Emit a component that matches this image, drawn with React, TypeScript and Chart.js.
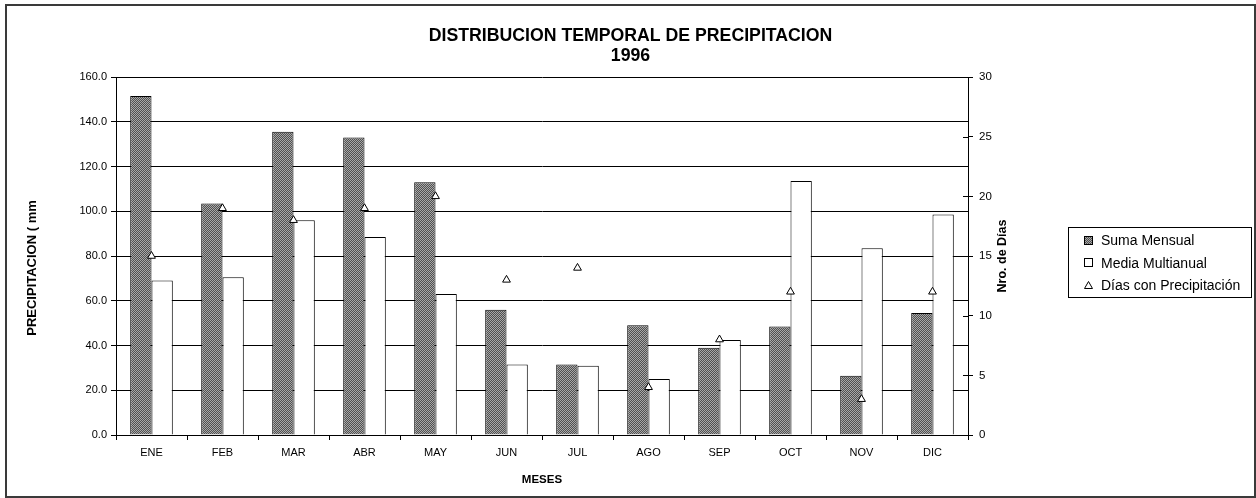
import React, { useEffect, useRef } from "react";
import { Chart, registerables } from "chart.js";

Chart.register(...registerables);

const months = ["ENE", "FEB", "MAR", "ABR", "MAY", "JUN", "JUL", "AGO", "SEP", "OCT", "NOV", "DIC"];
const sumaMensual = [151.5, 103.5, 135.5, 133.0, 113.0, 56.0, 31.5, 49.0, 39.0, 48.5, 26.5, 54.5];
const mediaMultianual = [69.0, 70.5, 96.0, 88.5, 63.0, 31.5, 31.0, 25.0, 42.5, 113.5, 83.5, 98.5];
const diasPrecipitacion = [15, 19, 18, 19, 20, 13, 14, 4, 8, 12, 3, 12];

const titleLines = ["DISTRIBUCION TEMPORAL DE PRECIPITACION", "1996"];
const yTitle = "PRECIPITACION ( mm";
const y1Title = "Nro. de Días";
const xTitle = "MESES";
const legendLabels = ["Suma Mensual", "Media Multianual", "Días con Precipitación"];

const FONT = "'Liberation Sans', Arial, sans-serif";

function makePattern(): CanvasPattern | string {
  const pc = document.createElement("canvas");
  pc.width = 2;
  pc.height = 2;
  const c = pc.getContext("2d");
  if (!c) return "#888";
  c.fillStyle = "#a8a8a8";
  c.fillRect(0, 0, 2, 2);
  c.fillStyle = "#505050";
  c.fillRect(0, 0, 1, 1);
  c.fillRect(1, 1, 1, 1);
  const p = c.createPattern(pc, "repeat");
  return p || "#888";
}

const textPlugin = {
  id: "textPlugin",
  afterDraw(chart: any) {
    const { ctx, chartArea } = chart;
    const cx = (chartArea.left + chartArea.right) / 2;
    const cy = (chartArea.top + chartArea.bottom) / 2;
    ctx.save();
    ctx.fillStyle = "#000";
    ctx.textAlign = "center";
    ctx.textBaseline = "middle";
    // main title centered on the frame
    ctx.font = `bold 17.7px ${FONT}`;
    ctx.fillText(titleLines[0], chart.width / 2, 30);
    ctx.fillText(titleLines[1], chart.width / 2, 50);
    // x title
    ctx.font = `bold 11.5px ${FONT}`;
    ctx.fillText(xTitle, cx, chartArea.bottom + 45);
    // left title
    ctx.font = `bold 13px ${FONT}`;
    ctx.save();
    ctx.translate(25, cy + 12);
    ctx.rotate(-Math.PI / 2);
    ctx.fillText(yTitle, 0, 0);
    ctx.restore();
    // right title
    ctx.font = `bold 12.5px ${FONT}`;
    ctx.save();
    ctx.translate(chartArea.right + 35, cy);
    ctx.rotate(-Math.PI / 2);
    ctx.fillText(y1Title, 0, 0);
    ctx.restore();
    // right axis inner tick marks (crossing)
    const y1 = chart.scales.y1;
    ctx.strokeStyle = "#000";
    ctx.lineWidth = 1;
    y1.ticks.forEach((t: any) => {
      const py = Math.round(y1.getPixelForValue(t.value)) + 0.5;
      ctx.beginPath();
      ctx.moveTo(chartArea.right - 5, py);
      ctx.lineTo(chartArea.right, py);
      ctx.stroke();
    });
    ctx.restore();
  },
};

export default function App() {
  const ref = useRef<HTMLCanvasElement | null>(null);

  useEffect(() => {
    if (!ref.current) return;
    const pattern = makePattern();
    const chart = new Chart(ref.current, {
      type: "bar",
      data: {
        labels: months,
        datasets: [
          {
            type: "line",
            label: legendLabels[2],
            data: diasPrecipitacion,
            yAxisID: "y1",
            showLine: false,
            pointStyle: "triangle",
            pointRadius: 4.5,
            pointBackgroundColor: "#fff",
            pointBorderColor: "#000",
            pointBorderWidth: 1,
            order: 0,
          } as any,
          {
            type: "bar",
            label: legendLabels[0],
            data: sumaMensual,
            yAxisID: "y",
            backgroundColor: pattern as any,
            borderColor: "#000",
            borderWidth: 1,
            categoryPercentage: 0.6,
            barPercentage: 1.0,
            order: 1,
          },
          {
            type: "bar",
            label: legendLabels[1],
            data: mediaMultianual,
            yAxisID: "y",
            backgroundColor: "#fff",
            borderColor: "#000",
            borderWidth: 1,
            categoryPercentage: 0.6,
            barPercentage: 1.0,
            order: 2,
          },
        ],
      },
      options: {
        animation: false,
        responsive: false,
        maintainAspectRatio: false,
        layout: { padding: { left: 0, top: 71, right: 236, bottom: 31 } },
        plugins: {
          legend: { display: false },
          title: { display: false },
          tooltip: { enabled: false },
        },
        scales: {
          x: {
            type: "category",
            offset: true,
            grid: {
              offset: true,
              drawOnChartArea: false,
              drawTicks: true,
              tickLength: 5,
              color: "#000",
            },
            border: { color: "#000", width: 1 },
            ticks: {
              color: "#000",
              font: { family: FONT, size: 11 },
              padding: 6,
              maxRotation: 0,
            },
            afterFit: (s: any) => {
              s.height = 30;
            },
          },
          y: {
            position: "left",
            min: 0,
            max: 160,
            ticks: {
              stepSize: 20,
              color: "#000",
              font: { family: FONT, size: 11 },
              padding: 4,
              callback: (v: any) => Number(v).toFixed(1),
            },
            grid: { color: "#000", lineWidth: 1, tickLength: 5 },
            border: { color: "#000", width: 1 },
            afterFit: (s: any) => {
              s.width = 109;
            },
          },
          y1: {
            position: "right",
            min: 0,
            max: 30,
            ticks: {
              stepSize: 5,
              color: "#000",
              font: { family: FONT, size: 11.5 },
              padding: 6,
            },
            grid: { drawOnChartArea: false, color: "#000", tickLength: 5 },
            border: { color: "#000", width: 1 },
            afterFit: (s: any) => {
              s.width = 50;
            },
          },
        },
      },
      plugins: [textPlugin],
    });
    return () => chart.destroy();
  }, []);

  const rowStyle: React.CSSProperties = {
    display: "flex",
    alignItems: "center",
    height: 22.5,
    paddingLeft: 12,
  };
  const markerBox: React.CSSProperties = {
    width: 14,
    display: "flex",
    justifyContent: "center",
    alignItems: "center",
    marginRight: 6,
  };

  return (
    <div
      style={{
        position: "absolute",
        left: 5,
        top: 4,
        width: 1251,
        height: 494,
        border: "2px solid #3a3a3a",
        boxSizing: "border-box",
        background: "#fff",
        fontFamily: FONT,
      }}
    >
      <canvas
        ref={ref}
        width={1247}
        height={490}
        style={{ position: "absolute", left: 0, top: 0, width: 1247, height: 490 }}
      />
      <div
        style={{
          position: "absolute",
          left: 1061,
          top: 221,
          width: 184,
          height: 71,
          border: "1px solid #000",
          boxSizing: "border-box",
          paddingTop: 1,
          fontSize: 14,
          color: "#000",
        }}
      >
        <div style={rowStyle}>
          <span style={markerBox}>
            <span
              style={{
                width: 7,
                height: 7,
                border: "1px solid #000",
                background:
                  "repeating-conic-gradient(#505050 0% 25%, #a8a8a8 0% 50%) 0 0 / 2px 2px",
              }}
            />
          </span>
          <span>{legendLabels[0]}</span>
        </div>
        <div style={rowStyle}>
          <span style={markerBox}>
            <span style={{ width: 7, height: 7, border: "1px solid #000", background: "#fff" }} />
          </span>
          <span>{legendLabels[1]}</span>
        </div>
        <div style={rowStyle}>
          <span style={markerBox}>
            <svg width="9" height="8" viewBox="0 0 9 8">
              <polygon points="4.5,0.5 8.5,7.5 0.5,7.5" fill="#fff" stroke="#000" strokeWidth="1" />
            </svg>
          </span>
          <span>{legendLabels[2]}</span>
        </div>
      </div>
    </div>
  );
}
